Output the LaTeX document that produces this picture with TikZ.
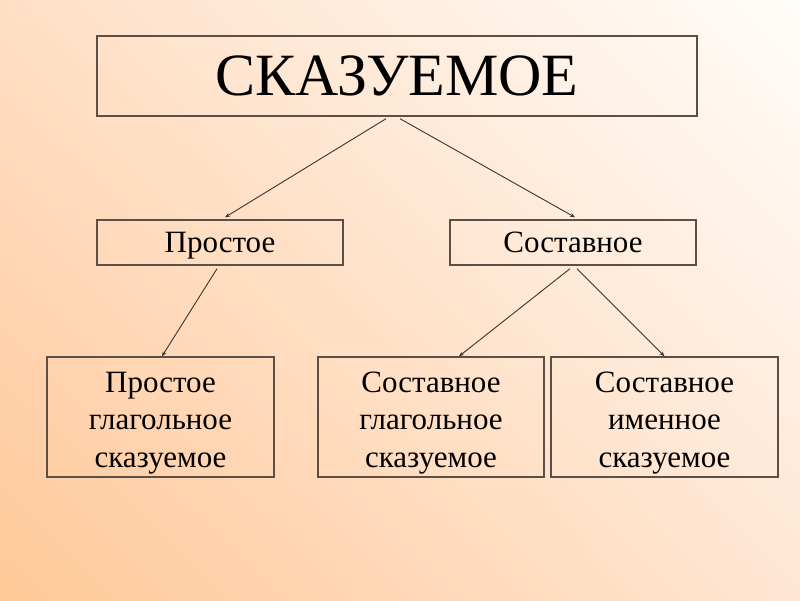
\documentclass[tikz,border=0pt]{standalone}
\usepackage{fontspec}
\setmainfont{Liberation Serif}
\usetikzlibrary{calc,arrows.meta,shadings}
\definecolor{bgLL}{HTML}{FFC898}
\definecolor{bgUL}{HTML}{FFDFC6}
\definecolor{bgUR}{HTML}{FFFDFA}
\definecolor{bgLR}{HTML}{FFE6D3}
\definecolor{boxline}{HTML}{5A5048}
\definecolor{arrowline}{HTML}{3A3430}
\newcommand{\firstup}{\rule{0pt}{32pt}}
\tikzset{
  box/.style={draw=boxline, line width=1.4pt, inner sep=0pt, align=center, text=black},
  bigbox/.style={box, minimum width=600pt, minimum height=80pt, font=\fontsize{60}{66}\selectfont},
  midbox/.style={box, minimum width=246pt, minimum height=45pt, text height=22pt, text depth=3pt, font=\fontsize{31}{36}\selectfont},
  lowbox/.style={box, minimum width=227pt, minimum height=120pt, font=\fontsize{31}{37.5}\selectfont},
  link/.style={draw=arrowline, line width=0.9pt, -{Stealth[length=5pt,width=4pt]}}
}
\begin{document}
\begin{tikzpicture}[x=1pt,y=-1pt]
\useasboundingbox (0,0) rectangle (800,600);
\shade[lower left=bgLL, upper left=bgUL, upper right=bgUR, lower right=bgLR] (0,600) rectangle (800,0);
\node[bigbox] (top) at (397,76) {СКАЗУЕМОЕ};
\node[midbox] (simple) at (220,242.5) {Простое};
\node[midbox] (compound) at (573,242.5) {Составное};
\node[lowbox] (b1) at (160.5,417) {\firstup Простое\\глагольное\\сказуемое};
\node[lowbox, minimum width=226pt] (b2) at (431,417) {\firstup Составное\\глагольное\\сказуемое};
\node[lowbox] (b3) at (664.5,417) {\firstup Составное\\именное\\сказуемое};
\draw[link] ($(top.south)+(-11,2)$) -- ($(simple.north)+(5,-2)$);
\draw[link] ($(top.south)+(3,2)$) -- ($(compound.north)+(2,-2)$);
\draw[link] ($(simple.south)+(-3,3)$) -- ($(b1.north)+(1.5,0)$);
\draw[link] ($(compound.south)+(-3,3)$) -- ($(b2.north)+(28,0)$);
\draw[link] ($(compound.south)+(4,3)$) -- ($(b3.north)+(0,0)$);
\end{tikzpicture}
\end{document}
